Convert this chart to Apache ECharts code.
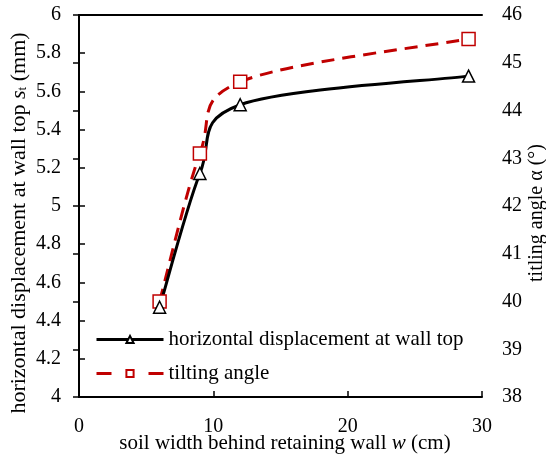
<!DOCTYPE html>
<html>
<head>
<meta charset="utf-8">
<script src="https://cdn.jsdelivr.net/npm/echarts@6/dist/echarts.min.js"></script>
<style>
  html, body { margin: 0; padding: 0; background: #fff; }
  #chart { width: 546px; height: 455px; }
</style>
</head>
<body>
<div id="chart"></div>
<script>
// Soil width behind the retaining wall (cm)
const soilWidth = [6, 9, 12, 29];
// Horizontal displacement at the wall top (mm)
const displacement = [4.47, 5.17, 5.53, 5.68];
// Tilting angle (degrees)
const tiltAngle = [40.0, 43.1, 44.6, 45.5];

const seriesNames = ['horizontal displacement at wall top', 'tilting angle'];
const xTitle = 'soil width behind retaining wall ';
const leftTitle = 'horizontal displacement at wall top ';
const rightTitle = 'titling angle α (°)';

const FONT = '"Liberation Serif", "Times New Roman", serif';
const RED = '#c00000';

const chart = echarts.init(document.getElementById('chart'), null, { renderer: 'canvas' });

const axisLine = { show: true, lineStyle: { color: '#000', width: 2 } };
const axisTick = { show: true, inside: true, length: 6, lineStyle: { color: '#000', width: 1.5 } };
const labelBase = { color: '#000', fontFamily: FONT, fontSize: 20 };

// Smooth curve through the points (Catmull-Rom style cubic segments),
// positioned with the series' own axes via api.coord.
function smoothCurve(points, stroke, dash) {
  return function (params, api) {
    if (params.dataIndex !== 0) return null;
    const p = points.map(d => api.coord(d));
    const n = p.length;
    const children = [];
    for (let i = 0; i < n - 1; i++) {
      const p0 = p[Math.max(i - 1, 0)], p1 = p[i], p2 = p[i + 1], p3 = p[Math.min(i + 2, n - 1)];
      children.push({
        type: 'bezierCurve',
        shape: {
          x1: p1[0], y1: p1[1], x2: p2[0], y2: p2[1],
          cpx1: p1[0] + (p2[0] - p0[0]) / 6, cpy1: p1[1] + (p2[1] - p0[1]) / 6,
          cpx2: p2[0] - (p3[0] - p1[0]) / 6, cpy2: p2[1] - (p3[1] - p1[1]) / 6
        },
        style: { stroke: stroke, lineWidth: 3, fill: null, lineDash: dash, lineCap: 'butt' }
      });
    }
    return { type: 'group', children: children };
  };
}

const dispPoints = soilWidth.map((x, i) => [x, displacement[i]]);
const tiltPoints = soilWidth.map((x, i) => [x, tiltAngle[i]]);

chart.setOption({
  animation: false,
  backgroundColor: '#fff',
  grid: { left: 79, right: 64, top: 15, bottom: 58 },
  legend: {
    data: [
      { name: seriesNames[0], lineStyle: { color: '#000', width: 3, type: 'solid', opacity: 1 } },
      { name: seriesNames[1], lineStyle: { color: RED, width: 3, type: [15, 37], opacity: 1 } }
    ],
    orient: 'vertical',
    left: 95, top: 329, padding: 0,
    itemWidth: 67, itemHeight: 9, itemGap: 13,
    textStyle: { color: '#000', fontFamily: FONT, fontSize: 21 }
  },
  xAxis: [
    {
      type: 'value', min: 0, max: 30, interval: 10, position: 'bottom',
      axisLine, axisTick, splitLine: { show: false },
      axisLabel: Object.assign({ margin: 20 }, labelBase)
    },
    {
      // top frame edge
      type: 'value', min: 0, max: 30, interval: 10, position: 'top',
      axisLine, axisTick: { show: false }, axisLabel: { show: false },
      splitLine: { show: false }
    }
  ],
  yAxis: [
    {
      type: 'value', min: 4, max: 6, interval: 0.2, position: 'left',
      axisLine, axisTick, splitLine: { show: false },
      axisLabel: Object.assign({
        margin: 18,
        formatter: v => String(Math.round(v * 10) / 10)
      }, labelBase)
    },
    {
      type: 'value', min: 38, max: 46, interval: 1, position: 'right',
      axisLine, axisTick, splitLine: { show: false },
      axisLabel: Object.assign({ margin: 20 }, labelBase)
    }
  ],
  series: [
    {
      name: 'displacement curve', type: 'custom', xAxisIndex: 0, yAxisIndex: 0,
      data: dispPoints, renderItem: smoothCurve(dispPoints, '#000', null),
      silent: true, z: 3
    },
    {
      name: 'tilt curve', type: 'custom', xAxisIndex: 0, yAxisIndex: 1,
      data: tiltPoints, renderItem: smoothCurve(tiltPoints, RED, [13, 8]),
      silent: true, z: 2
    },
    {
      name: seriesNames[0], type: 'line', xAxisIndex: 0, yAxisIndex: 0,
      data: dispPoints,
      symbol: 'triangle', symbolSize: 12,
      lineStyle: { color: '#000', width: 3, opacity: 0 },
      itemStyle: { color: '#fff', borderColor: '#000', borderWidth: 1.5 },
      z: 5
    },
    {
      name: seriesNames[1], type: 'line', xAxisIndex: 0, yAxisIndex: 1,
      data: tiltPoints,
      symbol: 'rect', symbolSize: 13,
      lineStyle: { color: RED, width: 3, opacity: 0 },
      itemStyle: { color: '#fff', borderColor: RED, borderWidth: 1.5 },
      z: 4
    }
  ],
  graphic: [
    {
      type: 'text', x: 285, y: 443,
      style: {
        text: xTitle + '{i|w} (cm)',
        font: '21px ' + FONT, fill: '#000',
        align: 'center', verticalAlign: 'middle',
        rich: { i: { fontStyle: 'italic', fontFamily: FONT, fontSize: 21 } }
      }
    },
    {
      type: 'text', x: 19, y: 223, rotation: Math.PI / 2,
      style: {
        text: leftTitle + '{i|s}{sub|t} (mm)',
        font: '22px ' + FONT, fill: '#000',
        align: 'center', verticalAlign: 'middle',
        rich: {
          i: { fontStyle: 'italic', fontFamily: FONT, fontSize: 22 },
          sub: { fontFamily: FONT, fontSize: 13, padding: [8, 0, 0, 0] }
        }
      }
    },
    {
      type: 'text', x: 537, y: 213, rotation: Math.PI / 2,
      style: {
        text: rightTitle,
        font: '20px ' + FONT, fill: '#000',
        align: 'center', verticalAlign: 'middle'
      }
    }
  ]
});
</script>
</body>
</html>
